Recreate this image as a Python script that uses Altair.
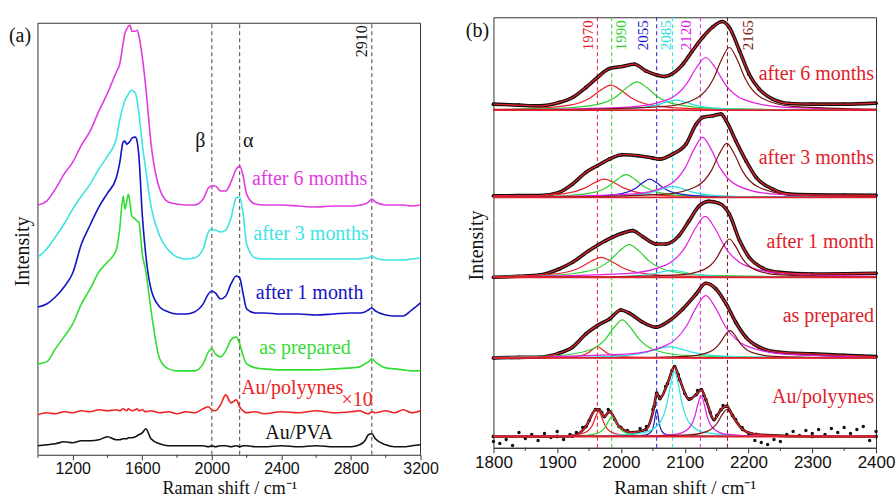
import altair as alt
import pandas as pd

SERIF = "Liberation Serif"
SANS = "Liberation Sans"

# ---------------- panel (a): Raman spectra 1000-3200 ----------------
A_X = [1000, 1050, 1100, 1150, 1200, 1250, 1300, 1350, 1400, 1450,
       1470, 1490, 1500, 1510, 1520, 1530, 1540, 1560, 1570, 1580,
       1600, 1620, 1650, 1700, 1750, 1800, 1850, 1900, 1950, 1980,
       2000, 2020, 2050, 2080, 2110, 2140, 2160, 2180, 2200, 2250,
       2300, 2400, 2500, 2600, 2700, 2800, 2850, 2880, 2900, 2920,
       2940, 3000, 3050, 3100, 3150, 3200]
A_6M = [250, 254, 266, 281, 293, 310, 324, 344, 362, 383,
        391, 412, 422, 426, 429, 430, 424, 424, 425, 420,
        398, 368, 312, 266, 253, 251, 250, 250, 256, 267,
        269, 269, 264, 264, 273, 286, 289, 279, 261, 251,
        250, 250, 249, 248, 249, 249, 250, 251, 253, 256,
        253, 250, 250, 250, 249, 250]
A_3M = [198, 206, 218, 231, 246, 259, 271, 286, 299, 316,
        335, 349, 355, 358, 361, 364, 365, 362, 355, 343,
        311, 285, 249, 219, 205, 198, 196, 197, 206, 223,
        226, 225, 223, 225, 237, 257, 258, 241, 211, 197,
        196, 196, 196, 196, 196, 196, 196, 197, 197, 199,
        197, 195, 195, 195, 196, 197]
A_1M = [148, 151, 158, 168, 182, 211, 230, 248, 262, 277,
        292, 313, 314, 311, 312, 314, 317, 318, 314, 300,
        240, 200, 166, 148, 143, 141, 141, 143, 151, 161,
        164, 162, 156, 159, 171, 179, 177, 161, 146, 142,
        142, 141, 141, 140, 141, 142, 142, 143, 145, 147,
        144, 140, 139, 139, 145, 152]
A_PREP = [91, 93, 106, 118, 131, 151, 166, 183, 193, 205,
          226, 259, 246, 253, 261, 251, 239, 236, 234, 233,
          201, 184, 145, 96, 86, 84, 84, 84, 91, 103,
          106, 101, 98, 104, 115, 118, 111, 99, 91, 87,
          86, 85, 85, 85, 86, 87, 88, 91, 93, 96,
          93, 87, 86, 85, 84, 84]
A_AUPOLY = [40, 42, 41, 43, 42, 44, 43, 45, 44, 45,
            44, 46, 45, 44, 46, 45, 44, 45, 46, 44,
            45, 43, 44, 42, 43, 41, 43, 42, 46, 48,
            45, 44, 50, 60, 52, 55, 48, 44, 42, 43,
            41, 43, 42, 44, 42, 43, 44, 42, 41, 43,
            42, 44, 42, 45, 42, 44]
A_AUPVA = [9, 10, 11, 13, 12, 14, 14, 15, 18, 15,
           15, 16, 16, 16, 17, 17, 17, 18, 19, 20,
           22, 26, 16, 11, 9, 9, 9, 9, 9, 8,
           9, 8, 9, 9, 8, 9, 8, 9, 9, 8,
           8, 9, 8, 9, 8, 8, 10, 14, 20, 21,
           16, 10, 8, 8, 9, 10]
A_SERIES = ["after 6 months", "after 3 months", "after 1 month",
            "as prepared", "Au/polyynes", "Au/PVA"]
A_COLORS = ["#e03ce0", "#3ee4e4", "#1414c4", "#33dd33", "#ee2222", "#111111"]
A_MAJOR = [1200, 1600, 2000, 2400, 2800, 3200]
A_MINOR = [1000, 1400, 1800, 2200, 2600, 3000]
A_MARKERS = [2000, 2160, 2920]
A_LABEL_TEXT = ["after 6 months", "after 3 months", "after 1 month", "as prepared",
                "Au/polyynes", "\u00d710", "Au/PVA", "\u03b2", "\u03b1"]
A_LABEL_X = [2562, 2570, 2562, 2536, 2462, 2835, 2501, 1934, 2209]
A_LABEL_Y = [276, 221, 162, 107, 67, 55, 22, 314, 314]
A_LABEL_SIZE = [20, 20, 20, 20, 20, 20, 20, 20, 20]
A_LABEL_COLOR = ["#e03ce0", "#3ee4e4", "#1414c4", "#33dd33", "#ee2222",
                 "#ee2222", "#111111", "#111111", "#111111"]

# ---------------- panel (b): fitted spectra 1800-2400 ----------------
B_PANELS = ["after 6 months", "after 3 months", "after 1 month", "as prepared", "Au/polyynes"]
B_OFFSETS = [338, 250.7, 170.7, 90, 11.3]
B_LABEL_Y = [374, 290, 206, 132, 51]

SPEC_6M_X = [1800, 1840, 1872, 1903, 1924, 1945, 1963, 1982, 2002, 2021, 2039, 2057, 2068, 2081,
             2097, 2112, 2128, 2144, 2159, 2170, 2186, 2201, 2217, 2238, 2264, 2300, 2350, 2400]
SPEC_6M_Y = [6, 5, 4.3, 7.7, 12.7, 22.7, 32.7, 41.7, 43.7, 46, 39.3, 35, 33.7, 36.7,
             46, 59.3, 72.7, 83.3, 88.7, 82.7, 59.3, 36, 21, 11, 6.7, 6, 6, 7]
SPEC_3M_X = [1800, 1840, 1872, 1903, 1924, 1945, 1963, 1982, 2002, 2027, 2050, 2061, 2081, 2102,
             2118, 2128, 2144, 2157, 2165, 2180, 2196, 2212, 2238, 2264, 2300, 2350, 2400]
SPEC_3M_Y = [1.6, 1.7, 1.7, 5, 13.3, 25, 31.7, 38.3, 42.7, 41.7, 39.3, 38.3, 43.3, 53.3,
             73.3, 80, 81.7, 83.3, 76.7, 56.7, 36.7, 20, 8.3, 3.3, 2.5, 2.2, 2]
SPEC_1M_X = [1800, 1840, 1872, 1903, 1924, 1950, 1976, 2002, 2018, 2034, 2055, 2070, 2091,
             2107, 2123, 2138, 2154, 2170, 2186, 2201, 2222, 2248, 2300, 2350, 2400]
SPEC_1M_Y = [0, 1, 2.3, 8.3, 15, 26.7, 36.7, 44, 46.7, 40.7, 33.3, 33.3, 41.7,
             56.7, 71.7, 76, 74, 63.3, 36.7, 20, 9.3, 5, 3.3, 3.5, 4]
SPEC_AP_X = [1800, 1840, 1872, 1903, 1924, 1945, 1963, 1982, 2000, 2013, 2034, 2055, 2076,
             2097, 2118, 2133, 2149, 2165, 2180, 2196, 2217, 2248, 2300, 2350, 2400]
SPEC_AP_Y = [0, 0.5, 0.7, 4.7, 10.7, 24, 32.3, 39, 48, 44.7, 35.7, 30.7, 37.3,
             49, 64, 74.7, 69, 54, 35.7, 20.7, 10.7, 5.7, 4, 2.5, 1.3]
SPEC_AU_X = [1800, 1900, 1924, 1945, 1961, 1966, 1974, 1982, 1997, 2018, 2039, 2052, 2056, 2061,
             2073, 2084, 2092, 2107, 2118, 2126, 2133, 2146, 2157, 2166, 2175, 2191, 2212, 2300, 2400]
SPEC_AU_Y = [0, 0, 0.3, 10, 27, 26.7, 20, 25, 10, 4, 7, 30, 43.3, 38,
             53, 70, 57, 37.3, 42, 47, 37, 17, 27, 30.3, 21, 7, 2, 0, 0]
AU_DOTS_X = [1800, 1810, 1820, 1830, 1840, 1850, 1860, 1870, 1880, 1890,
             1900, 1910, 1920, 1930, 1940, 1950, 1960, 1970, 1980, 1990,
             2000, 2010, 2020, 2030, 2040, 2050, 2060, 2070, 2080, 2090,
             2100, 2110, 2120, 2130, 2140, 2150, 2160, 2170, 2180, 2190,
             2200, 2210, 2220, 2230, 2240, 2250, 2260, 2270, 2280, 2290,
             2300, 2310, 2320, 2330, 2340, 2350, 2360, 2370, 2380, 2390, 2400]
AU_DOTS_Y = [-5, -7, -3, -9, 4, -2, 2, -4, 3, -1,
             5, -3, 2, 4, 9, 16, 27, 24, 27, 17,
             9, 6, 4, 8, 10, 27, 40, 50, 66, 62,
             43, 38, 46, 41, 24, 21, 31, 26, 17, 9,
             1, -4, -6, -8, -3, -5, 2, 5, 1, 6,
             3, 7, 2, 8, 4, 9, 3, 7, 10, -4, 5]

COMP_6M = {
    "1970": ([1800, 1856, 1920, 1952, 1968, 1984, 2000, 2016, 2048, 2112, 2304, 2400],
             [0.7, 1.5, 5, 12.5, 20, 25, 20, 12.5, 5, 1.5, 0.3, 0.1]),
    "1990": ([1800, 1901, 1963, 1994, 2009.5, 2025, 2040.5, 2056, 2087, 2149, 2335, 2400],
             [0.5, 1.7, 5.7, 14.2, 22.6, 28.3, 22.6, 14.2, 5.7, 1.7, 0.3, 0.2]),
    "2085": ([1800, 1966, 2026, 2056, 2071, 2086, 2101, 2116, 2146, 2206, 2386, 2400],
             [0.1, 0.6, 2, 5, 8, 10, 8, 5, 2, 0.6, 0.1, 0.1]),
    "2120": ([1800, 1833, 2013, 2073, 2103, 2118, 2133, 2148, 2163, 2193, 2253, 2400],
             [0.4, 0.5, 3.1, 10.5, 26.4, 42.2, 52.7, 42.2, 26.4, 10.5, 3.1, 0.7]),
    "2165": ([1800, 1920, 2070, 2120, 2145, 2157.5, 2170, 2182.5, 2195, 2220, 2270, 2400],
             [0.3, 0.6, 3.7, 12.5, 31.4, 50.2, 62.7, 50.2, 31.4, 12.5, 3.7, 0.7]),
}
COMP_3M = {
    "1970": ([1800, 1850, 1912, 1943, 1958.5, 1974, 1989.5, 2005, 2036, 2098, 2284, 2400],
             [0.6, 1.1, 3.7, 9.2, 14.6, 18.3, 14.6, 9.2, 3.7, 1.1, 0.2, 0.1]),
    "1990": ([1800, 1900, 1954, 1981, 1994.5, 2008, 2021.5, 2035, 2062, 2116, 2278, 2400],
             [0.4, 1.3, 4.5, 11.4, 18.2, 22.7, 18.2, 11.4, 4.5, 1.3, 0.2, 0.1]),
    "2055": ([1800, 1825, 1957, 2001, 2023, 2034, 2045, 2056, 2067, 2089, 2133, 2265, 2400],
             [0.15, 0.2, 1.1, 3.7, 9.2, 14.6, 18.3, 14.6, 9.2, 3.7, 1.1, 0.2, 0.1]),
    "2085": ([1800, 1961, 2021, 2051, 2066, 2081, 2096, 2111, 2141, 2201, 2381, 2400],
             [0.1, 0.6, 2.2, 5.5, 8.8, 11, 8.8, 5.5, 2.2, 0.6, 0.1, 0.1]),
    "2120": ([1800, 1858, 2020, 2074, 2101, 2114.5, 2128, 2141.5, 2155, 2182, 2236, 2400],
             [0.4, 0.6, 3.5, 12, 30, 48, 60, 48, 30, 12, 3.5, 0.6]),
    "2165": ([1800, 1926, 2070, 2118, 2142, 2154, 2166, 2178, 2190, 2214, 2262, 2400],
             [0.2, 0.5, 3.2, 10.8, 27, 43.2, 54, 43.2, 27, 10.8, 3.2, 0.6]),
}
COMP_1M = {
    "1970": ([1800, 1841, 1905, 1937, 1953, 1969, 1985, 2001, 2033, 2097, 2289, 2400],
             [0.7, 1.2, 4, 10, 16, 20, 16, 10, 4, 1.2, 0.2, 0.1]),
    "1990": ([1800, 1889, 1951, 1982, 1997.5, 2013, 2028.5, 2044, 2075, 2137, 2323, 2400],
             [0.7, 1.9, 6.5, 16.4, 26.2, 32.7, 26.2, 16.4, 6.5, 1.9, 0.3, 0.2]),
    "2085": ([1800, 1961, 2021, 2051, 2066, 2081, 2096, 2111, 2141, 2201, 2381, 2400],
             [0.1, 0.4, 1.4, 3.5, 5.6, 7, 5.6, 3.5, 1.4, 0.4, 0.1, 0.1]),
    "2120": ([1800, 1822, 2008, 2070, 2101, 2116.5, 2132, 2147.5, 2163, 2194, 2256, 2400],
             [0.5, 0.6, 3.6, 12.2, 30.5, 48.8, 61, 48.8, 30.5, 12.2, 3.6, 0.8]),
    "2165": ([1800, 1970, 2090, 2130, 2150, 2160, 2170, 2180, 2190, 2210, 2250, 2370, 2400],
             [0.1, 0.4, 2.3, 7.7, 19.2, 30.6, 38.3, 30.6, 19.2, 7.7, 2.3, 0.4, 0.3]),
}
COMP_AP = {
    "1970": ([1800, 1833, 1911, 1937, 1950, 1956.5, 1963, 1969.5, 1976, 1989, 2015, 2093, 2400],
             [0.1, 0.1, 0.7, 2.3, 5.7, 9, 11.3, 9, 5.7, 2.3, 0.7, 0.1, 0]),
    "1990": ([1800, 1898, 1950, 1976, 1989, 2002, 2015, 2028, 2054, 2106, 2262, 2400],
             [0.6, 2.2, 7.6, 19, 30.4, 38, 30.4, 19, 7.6, 2.2, 0.4, 0.2]),
    "2085": ([1800, 1936, 2006, 2041, 2058.5, 2076, 2093.5, 2111, 2146, 2216, 2400],
             [0.2, 0.7, 2.3, 5.7, 9, 11.3, 9, 5.7, 2.3, 0.7, 0.1]),
    "2120": ([1800, 1823, 2009, 2071, 2102, 2117.5, 2133, 2148.5, 2164, 2195, 2257, 2400],
             [0.5, 0.6, 3.7, 12.5, 31.2, 49.8, 62.3, 49.8, 31.2, 12.5, 3.7, 0.8]),
    "2165": ([1800, 2001, 2103, 2137, 2154, 2162.5, 2171, 2179.5, 2188, 2205, 2239, 2341, 2400],
             [0.1, 0.3, 1.6, 5.5, 13.7, 21.8, 27.3, 21.8, 13.7, 5.5, 1.6, 0.3, 0.1]),
}
COMP_AU = {
    "1970": ([1800, 1875, 1929, 1947, 1956, 1960.5, 1965, 1969.5, 1974, 1983, 2001, 2055, 2400],
             [0.1, 0.2, 1.5, 5, 12.5, 20, 25, 20, 12.5, 5, 1.5, 0.2, 0]),
    "1990": ([1800, 1886, 1946, 1966, 1976, 1981, 1986, 1991, 1996, 2006, 2026, 2086, 2400],
             [0.1, 0.2, 1.2, 4, 10, 16, 20, 16, 10, 4, 1.2, 0.2, 0]),
    "2055": ([1800, 2016, 2040, 2048, 2052, 2054, 2056, 2058, 2060, 2064, 2072, 2096, 2400],
             [0, 0.3, 1.6, 5.4, 13.5, 21.6, 27, 21.6, 13.5, 5.4, 1.6, 0.3, 0]),
    "2085": ([1800, 1964, 2036, 2060, 2072, 2078, 2084, 2090, 2096, 2108, 2132, 2204, 2400],
             [0.1, 0.6, 3.8, 13, 32.5, 52, 65, 52, 32.5, 13, 3.8, 0.6, 0.1]),
    "2120": ([1800, 2030.5, 2087.5, 2106.5, 2116, 2120.8, 2125.5, 2130.3, 2135, 2144.5, 2163.5, 2220.5, 2400],
             [0, 0.4, 2.4, 8.2, 20.5, 32.8, 41, 32.8, 20.5, 8.2, 2.4, 0.4, 0.05]),
    "2165": ([1800, 2016, 2106, 2136, 2151, 2158.5, 2166, 2173.5, 2181, 2196, 2226, 2316, 2400],
             [0.05, 0.3, 1.6, 5.4, 13.5, 21.6, 27, 21.6, 13.5, 5.4, 1.6, 0.3, 0.1]),
}

PEAK_NAMES = ["1970", "1990", "2055", "2085", "2120", "2165"]
PEAK_COLORS = ["#e8202a", "#2ed02e", "#1c1cd0", "#2ee0e0", "#e020e0", "#7a1414"]
PEAK_LINE_X = [1963, 1985.5, 2056, 2081, 2124.5, 2167]
PEAK_TEXT_X = [1948, 2000, 2034, 2070, 2102, 2199]
B_MAJOR = [1800, 1900, 2000, 2100, 2200, 2300, 2400]
B_MINOR = [1850, 1950, 2050, 2150, 2250, 2350]
FIT_RED = "#e0202a"

# ---------------- build tables ----------------
a_series = [A_6M, A_3M, A_1M, A_PREP, A_AUPOLY, A_AUPVA]
rows = []
for name, vals in zip(A_SERIES, a_series):
    for xv, yv in zip(A_X, vals):
        rows.append({"x": xv, "y": yv, "series": name})
df_a = pd.DataFrame(rows)
df_a_labels = pd.DataFrame({"x": A_LABEL_X, "y": A_LABEL_Y, "t": A_LABEL_TEXT,
                            "c": A_LABEL_COLOR, "s": A_LABEL_SIZE})
df_a_mark = pd.DataFrame({"x": A_MARKERS, "y": [0] * 3, "y2": [432] * 3})
df_a_frame = pd.DataFrame({"x": [1000, 1000, 3200], "x2": [3200, 1000, 3200],
                           "y": [432, 0, 0], "y2": [432, 432, 432]})
df_a_minor = pd.DataFrame({"x": A_MINOR})
df_a_2910 = pd.DataFrame({"x": [2862], "y": [414], "t": ["2910"]})
df_a_tag = pd.DataFrame({"t": ["(a)"]})

spectra = [(SPEC_6M_X, SPEC_6M_Y), (SPEC_3M_X, SPEC_3M_Y), (SPEC_1M_X, SPEC_1M_Y),
           (SPEC_AP_X, SPEC_AP_Y), (SPEC_AU_X, SPEC_AU_Y)]
comps = [COMP_6M, COMP_3M, COMP_1M, COMP_AP, COMP_AU]
color_of = dict(zip(PEAK_NAMES, PEAK_COLORS))

srows, crows = [], []
for pname, off, (xs, ys), cdict in zip(B_PANELS, B_OFFSETS, spectra, comps):
    for xv, yv in zip(xs, ys):
        srows.append({"x": xv, "y": off + yv, "panel": pname})
    for peak, (cx, cy) in cdict.items():
        for xv, yv in zip(cx, cy):
            crows.append({"x": xv, "y": off + yv, "key": pname + peak, "c": color_of[peak]})
df_spec = pd.DataFrame(srows)
df_spec_smooth = df_spec[df_spec["panel"] != "Au/polyynes"]
df_spec_au = df_spec[df_spec["panel"] == "Au/polyynes"]
df_comp = pd.DataFrame(crows)
df_dots = pd.DataFrame({"x": AU_DOTS_X, "y": [B_OFFSETS[4] + v for v in AU_DOTS_Y]})
df_base = pd.DataFrame({"y": B_OFFSETS, "x": [1800] * 5, "x2": [2400] * 5})
df_peaklines = pd.DataFrame({"x": PEAK_LINE_X, "c": PEAK_COLORS})
df_peaktext = pd.DataFrame({"x": PEAK_TEXT_X, "y": [413] * 6, "t": PEAK_NAMES, "c": PEAK_COLORS})
df_blabels = pd.DataFrame({"x": [2397] * 5, "y": B_LABEL_Y, "t": B_PANELS})
df_b_minor = pd.DataFrame({"x": B_MINOR})
df_b_tag = pd.DataFrame({"t": ["(b)"]})

# ---------------- panel (a) chart ----------------
AX_XA = alt.Axis(values=A_MAJOR, title="Raman shift / cm\u207b\u00b9", grid=False, tickSize=5,
                 labelFontSize=16, labelFlush=False, labelPadding=1, format="d", titleFontSize=18,
                 titleBaseline="middle", titleY=34)
AX_YA = alt.Axis(title="Intensity", labels=False, ticks=False, domain=False, grid=False,
                 titleX=-15, titleY=234, titleBaseline="middle", titleAlign="center")
XA = alt.X("x:Q", scale=alt.Scale(domain=[1000, 3200], nice=False, zero=False), axis=AX_XA)
YA = alt.Y("y:Q", scale=alt.Scale(domain=[0, 438], nice=False, zero=False), axis=AX_YA)

a_frame = alt.Chart(df_a_frame).mark_rule(color="#333333", strokeWidth=1).encode(
    x=XA, x2="x2:Q", y=YA, y2="y2:Q")
a_mark = alt.Chart(df_a_mark).mark_rule(color="#444444", strokeWidth=1, strokeDash=[4, 3]).encode(
    x=XA, y=YA, y2="y2:Q")
a_lines = alt.Chart(df_a).mark_line(strokeWidth=1.6, interpolate="monotone").encode(
    x=XA, y=YA,
    color=alt.Color("series:N", scale=alt.Scale(domain=A_SERIES, range=A_COLORS), legend=None))
a_labels = alt.Chart(df_a_labels).mark_text(font=SERIF, baseline="middle").encode(
    x=XA, y=YA, text="t:N", color=alt.Color("c:N", scale=None),
    size=alt.Size("s:Q", scale=None))
a_2910 = alt.Chart(df_a_2910).mark_text(font=SERIF, fontSize=16, angle=270, baseline="middle",
                                        color="#111111").encode(x=XA, y=YA, text="t:N")
a_tag = alt.Chart(df_a_tag).mark_text(font=SERIF, fontSize=20, color="#111111").encode(
    x=alt.value(-18), y=alt.value(19), text="t:N")
a_minor = alt.Chart(df_a_minor).mark_rule(color="#333333", strokeWidth=1).encode(
    x=XA, y=alt.value(438), y2=alt.value(441))

chart_a = alt.layer(a_frame, a_mark, a_lines, a_labels, a_2910, a_tag, a_minor).properties(
    width=383, height=438, view=alt.ViewBackground(stroke="transparent"))

# ---------------- panel (b) chart ----------------
AX_XB = alt.Axis(values=B_MAJOR, title="Raman shift / cm\u207b\u00b9", grid=False, tickSize=5,
                 labelFontSize=17, labelFlush=False, format="d", titleFontSize=19,
                 titleBaseline="middle", titleY=40)
AX_YB = alt.Axis(title="Intensity", labels=False, ticks=False, domain=False, grid=False,
                 titleX=-17, titleY=228, titleBaseline="middle", titleAlign="center")
XB = alt.X("x:Q", scale=alt.Scale(domain=[1800, 2400], nice=False, zero=False), axis=AX_XB)
YB = alt.Y("y:Q", scale=alt.Scale(domain=[0, 431], nice=False, zero=False), axis=AX_YB)

b_plines = alt.Chart(df_peaklines).mark_rule(strokeWidth=1, strokeDash=[4, 3]).encode(
    x=XB, color=alt.Color("c:N", scale=None))
b_base = alt.Chart(df_base).mark_rule(color=FIT_RED, strokeWidth=1.8).encode(
    x=XB, x2="x2:Q", y=YB)
b_data_line = alt.Chart(df_spec_smooth).mark_line(color="#111111", strokeWidth=3.6,
                                                  interpolate="monotone").encode(
    x=XB, y=YB, detail="panel:N")
b_data_au = alt.Chart(df_spec_au).mark_line(color="#111111", strokeWidth=2.6,
                                            interpolate="monotone").encode(x=XB, y=YB)
b_data_pts = alt.Chart(df_spec).mark_circle(color="#111111", size=14, opacity=1).encode(x=XB, y=YB)
b_dots = alt.Chart(df_dots).mark_circle(color="#111111", size=12, opacity=1).encode(x=XB, y=YB)
b_comp = alt.Chart(df_comp).mark_line(strokeWidth=1.2, interpolate="monotone").encode(
    x=XB, y=YB, detail="key:N", color=alt.Color("c:N", scale=None))
b_fit = alt.Chart(df_spec).mark_line(color=FIT_RED, strokeWidth=1.3, interpolate="monotone").encode(
    x=XB, y=YB, detail="panel:N")
b_labels = alt.Chart(df_blabels).mark_text(font=SERIF, fontSize=20, align="right", baseline="middle",
                                           color=FIT_RED).encode(x=XB, y=YB, text="t:N")
b_ptext = alt.Chart(df_peaktext).mark_text(font=SERIF, fontSize=15, angle=270, baseline="middle").encode(
    x=XB, y=YB, text="t:N", color=alt.Color("c:N", scale=None))
b_tag = alt.Chart(df_b_tag).mark_text(font=SERIF, fontSize=20, color="#111111").encode(
    x=alt.value(-16), y=alt.value(14), text="t:N")
b_minor = alt.Chart(df_b_minor).mark_rule(color="#333333", strokeWidth=1).encode(
    x=XB, y=alt.value(431), y2=alt.value(434))

chart_b = alt.layer(b_plines, b_data_line, b_data_au, b_data_pts, b_dots, b_comp, b_base, b_fit,
                    b_labels, b_ptext, b_tag, b_minor).properties(width=383, height=431)

chart = alt.hconcat(chart_a, chart_b, spacing=73, bounds="flush").properties(
    padding={"left": 8, "top": 13, "right": 0, "bottom": 0}
).configure_view(stroke="#333333", strokeWidth=1).configure_axis(
    labelFont=SANS, labelColor="#111111", tickColor="#333333", domainColor="#333333",
    titleFont=SERIF, titleFontSize=20, titleFontWeight="normal", titleColor="#111111",
    labelPadding=2
)

chart.save("out.html", embed_options={"renderer": "svg", "actions": False})
